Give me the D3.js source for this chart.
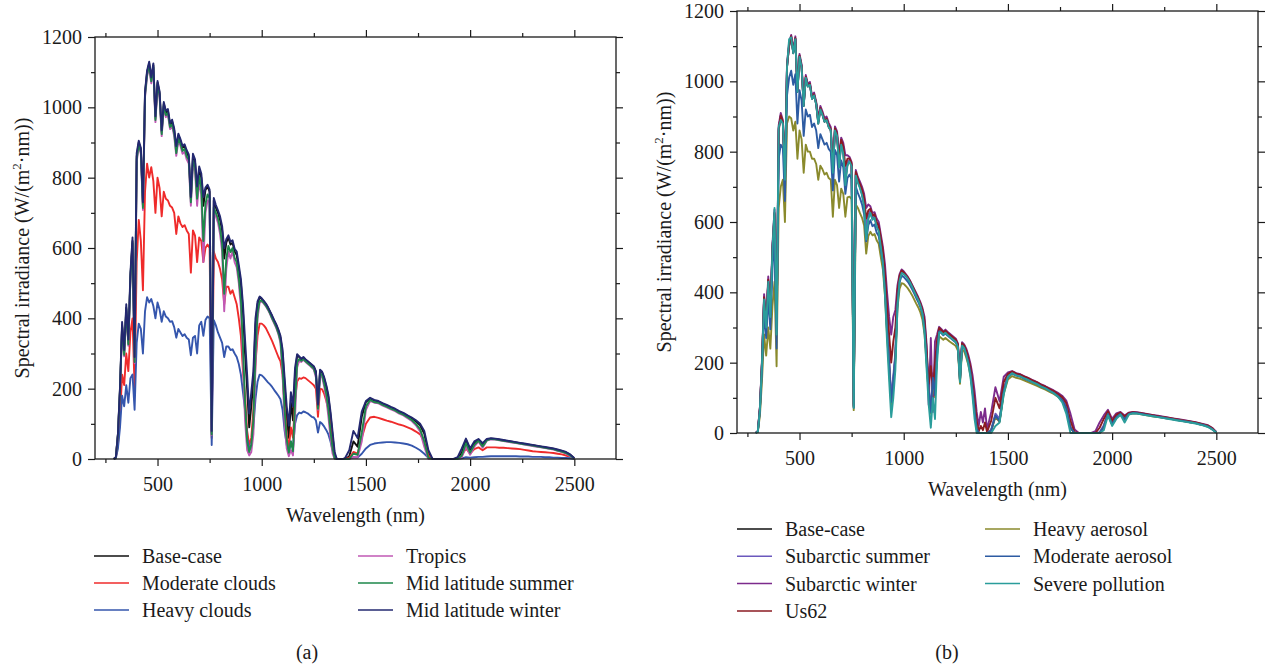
<!DOCTYPE html>
<html>
<head>
<meta charset="utf-8">
<script src="https://cdn.jsdelivr.net/npm/d3@7"></script>
<style>
  body { margin: 0; background: #fff; }
  text { font-family: "Liberation Serif", "DejaVu Serif", serif; fill: #1a1a1a; }
</style>
</head>
<body>
<div id="chart"></div>
<script>
// wavelength grid (nm), rows of 10
const wl = [
  290,300,310,320,330,340,350,360,370,380,
  390,400,410,420,430,440,450,460,470,480,
  490,500,510,520,530,540,550,560,570,580,
  590,600,610,620,630,640,650,660,670,680,
  690,700,710,720,730,740,750,760,770,780,
  790,800,810,820,830,840,850,860,870,880,
  890,900,910,920,930,940,950,960,970,980,
  990,1000,1010,1020,1030,1040,1050,1060,1070,1080,
  1090,1100,1110,1120,1130,1140,1150,1160,1170,1180,
  1190,1200,1210,1220,1230,1240,1250,1260,1270,1280,
  1290,1300,1310,1320,1330,1340,1350,1360,1370,1380,
  1390,1400,1420,1440,1460,1480,1500,1520,1540,1560,
  1580,1600,1620,1640,1660,1680,1700,1720,1740,1760,
  1780,1800,1820,1840,1860,1880,1900,1920,1940,1960,
  1980,2000,2020,2040,2060,2080,2100,2120,2140,2160,
  2180,2200,2220,2240,2260,2280,2300,2320,2340,2360,
  2380,2400,2420,2440,2460,2480,2500
];

// spectral irradiance W/(m2.nm), same grid
const baseCase = [
  0,5,70,200,380,300,430,330,520,620,
  280,860,900,880,720,1040,1100,1125,1080,1120,
  970,1070,1040,930,1010,985,990,950,960,935,
  880,920,905,885,890,870,860,740,860,845,
  760,825,800,720,765,775,760,75,735,715,
  700,680,650,570,615,630,610,615,590,580,
  540,500,420,300,200,90,150,220,380,440,
  460,455,448,440,430,418,405,392,380,365,
  345,300,210,120,60,160,110,240,295,290,
  283,288,282,277,272,267,262,248,150,252,
  246,228,205,175,125,65,12,0,0,0,
  0,0,8,50,35,120,162,172,166,163,
  157,152,146,141,134,129,122,116,107,96,
  72,15,0,0,0,0,0,0,0,18,
  55,25,45,55,40,55,58,57,55,53,
  51,49,47,45,43,41,39,37,35,33,
  31,29,26,23,19,12,2
];
const moderateClouds = [
  0,3,40,120,240,210,300,250,360,400,
  200,560,680,620,480,760,840,800,830,790,
  700,800,770,690,760,740,735,720,715,700,
  640,690,670,660,665,650,640,530,650,635,
  560,630,620,560,600,610,600,60,590,570,
  560,540,510,440,490,490,470,480,460,440,
  400,350,250,180,80,40,60,140,270,350,
  385,385,380,372,360,348,335,320,305,290,
  278,240,150,70,30,90,60,170,220,230,
  228,232,230,225,220,215,210,200,120,200,
  198,185,165,140,100,50,8,0,0,0,
  0,0,3,20,15,60,100,118,120,117,
  113,109,106,102,98,95,90,85,78,70,
  50,10,0,0,0,0,0,0,0,10,
  30,15,28,33,25,33,33,33,32,32,
  31,30,29,28,26,24,22,21,20,19,
  18,17,15,13,10,6,1
];
const heavyClouds = [
  0,2,30,90,180,150,210,160,230,240,
  140,330,385,370,300,420,460,445,455,435,
  400,445,425,390,420,405,400,390,392,375,
  345,370,360,350,355,345,340,295,345,350,
  300,380,390,350,395,405,400,40,395,380,
  360,345,330,290,320,320,310,312,300,290,
  270,240,190,140,60,30,40,90,170,220,
  240,238,232,225,218,212,205,196,188,180,
  170,140,80,40,15,50,30,100,125,132,
  130,135,133,130,125,120,118,110,75,105,
  100,92,82,70,50,25,3,0,0,0,
  0,0,1,5,4,15,30,40,44,46,
  47,48,48,47,46,44,42,38,32,25,
  15,3,0,0,0,0,0,0,0,2,
  5,4,5,6,6,7,8,8,8,8,
  8,8,8,7,7,7,6,6,6,5,
  5,4,4,3,3,2,0
];
const tropics = [
  0,4,66,192,372,292,420,322,510,608,
  272,845,888,868,708,1028,1088,1112,1068,1108,
  958,1058,1028,918,998,972,978,938,946,918,
  862,905,890,868,874,852,840,720,838,818,
  720,790,752,560,700,735,730,68,700,690,
  672,640,590,420,540,590,570,590,560,545,
  500,430,280,110,25,10,20,70,260,400,
  445,448,442,434,424,412,398,385,372,355,
  330,240,100,30,8,25,10,120,260,280,
  276,282,276,271,266,260,254,232,140,240,
  232,205,170,120,60,15,0,0,0,0,
  0,0,0,5,5,50,140,165,160,158,
  152,147,141,136,129,124,116,108,96,78,
  35,0,0,0,0,0,0,0,0,5,
  35,12,35,50,32,52,56,55,53,51,
  49,47,45,43,41,39,37,35,33,31,
  29,27,23,20,15,8,1
];
const midLatSummer = [
  0,4,68,196,376,296,425,326,515,614,
  276,852,894,874,714,1034,1094,1118,1074,1114,
  964,1064,1034,924,1004,978,984,944,952,926,
  870,912,897,876,882,861,850,730,848,830,
  740,805,772,620,725,752,742,70,715,700,
  684,655,612,470,570,606,588,600,572,560,
  515,455,320,160,50,20,40,110,300,415,
  450,450,444,436,426,414,400,388,375,358,
  336,262,140,55,18,50,22,160,275,284,
  279,284,278,273,268,262,257,238,143,245,
  238,214,185,140,80,30,2,0,0,0,
  0,0,0,15,12,75,150,168,162,160,
  154,149,143,138,131,126,119,111,100,85,
  50,3,0,0,0,0,0,0,0,10,
  45,18,40,52,36,53,57,56,54,52,
  50,48,46,44,42,40,38,36,34,32,
  30,28,24,21,17,10,1
];
const midLatWinter = [
  0,5,72,205,390,310,440,340,530,630,
  290,870,905,885,730,1045,1105,1130,1085,1125,
  975,1075,1045,935,1015,990,995,955,965,940,
  890,925,910,890,895,878,866,745,868,852,
  775,832,812,745,772,780,766,80,742,722,
  707,690,662,600,625,636,618,622,598,590,
  552,512,440,340,240,130,190,250,400,448,
  462,457,450,442,432,420,408,395,383,368,
  350,312,230,150,95,190,150,260,298,292,
  285,290,284,279,274,269,264,250,155,254,
  248,232,210,182,135,78,20,0,0,0,
  0,3,25,80,60,135,165,174,168,165,
  159,154,148,143,136,131,124,118,110,100,
  80,25,0,0,0,0,0,0,5,30,
  58,30,50,57,45,57,59,58,56,54,
  52,50,48,46,44,42,40,38,36,34,
  32,30,27,24,20,13,2
];
const subarcticSummer = [
  0,5,71,202,385,305,435,335,525,625,
  285,865,902,882,725,1042,1102,1128,1082,1122,
  972,1072,1042,932,1012,987,992,952,962,937,
  883,922,907,887,892,873,862,742,863,848,
  765,828,805,728,768,777,762,76,738,718,
  702,684,655,582,619,632,613,618,593,583,
  545,505,428,312,212,100,162,228,386,442,
  460,455,448,440,430,418,405,392,380,365,
  346,304,218,128,70,170,120,245,296,290,
  283,288,282,277,272,267,262,248,150,252,
  246,229,207,178,128,70,15,0,0,0,
  0,0,10,55,40,125,163,173,167,164,
  158,153,147,142,135,130,123,117,108,98,
  75,18,0,0,0,0,0,0,2,22,
  56,27,47,56,42,56,58,57,55,53,
  51,49,47,45,43,41,39,37,35,33,
  31,29,26,23,19,12,2
];
const subarcticWinter = [
  0,6,75,210,395,315,445,345,535,635,
  295,875,910,890,735,1050,1110,1132,1090,1128,
  978,1078,1048,938,1018,992,998,958,968,942,
  895,930,915,895,900,882,870,750,872,858,
  790,840,825,790,790,785,770,82,748,728,
  715,700,680,640,650,645,625,628,610,600,
  565,530,480,400,330,280,330,350,420,452,
  465,460,452,444,434,422,410,398,386,372,
  355,330,250,80,270,60,260,280,302,296,
  289,294,288,283,278,273,268,255,165,258,
  252,240,222,198,165,120,60,20,60,30,
  70,10,60,130,90,160,172,176,170,167,
  161,156,150,145,138,133,127,121,114,106,
  92,55,10,0,0,0,0,5,30,50,
  66,40,56,60,50,58,60,59,57,55,
  53,51,49,47,45,43,41,39,37,35,
  33,31,28,25,22,15,3
];
const us62 = [
  0,5,72,204,386,306,436,336,526,626,
  287,866,903,884,727,1043,1103,1128,1083,1123,
  973,1073,1043,933,1013,988,993,953,963,938,
  886,924,909,889,894,875,864,745,866,851,
  775,834,815,760,780,781,766,78,742,722,
  708,692,668,610,633,638,618,622,600,590,
  555,518,455,360,280,200,260,300,405,446,
  462,457,450,442,432,420,408,395,383,368,
  350,318,235,140,190,120,200,265,299,293,
  286,291,285,280,275,270,265,252,158,255,
  249,235,214,188,145,95,35,5,20,8,
  30,3,35,100,70,145,168,175,169,166,
  160,155,149,144,137,132,125,119,111,102,
  85,35,2,0,0,0,0,0,15,40,
  62,34,52,58,47,57,59,58,56,54,
  52,50,48,46,44,42,40,38,36,34,
  32,30,27,24,21,14,2
];
const heavyAerosol = [
  0,3,50,150,280,220,300,240,360,430,
  190,640,700,720,600,880,900,895,860,885,
  780,860,835,740,820,800,800,780,780,765,
  720,760,750,735,740,725,720,615,720,705,
  640,695,680,615,670,672,665,65,650,640,
  625,612,590,510,560,572,562,566,548,538,
  500,465,390,280,185,80,135,205,355,410,
  426,424,418,411,402,392,380,368,357,343,
  322,280,195,112,55,150,102,222,275,270,
  265,270,265,260,256,252,247,234,140,238,
  232,215,194,165,118,60,10,0,0,0,
  0,0,7,45,32,112,152,162,157,154,
  149,144,139,134,128,123,117,111,103,92,
  69,14,0,0,0,0,0,0,0,17,
  53,24,43,53,38,53,56,55,53,51,
  49,47,45,44,42,40,38,36,34,32,
  30,28,25,22,18,11,2
];
const moderateAerosol = [
  0,4,62,180,345,270,385,295,465,555,
  240,780,820,810,660,960,1010,1030,990,1020,
  880,975,945,845,920,900,905,870,880,860,
  810,850,835,820,825,808,800,690,805,790,
  715,775,755,680,725,735,722,72,700,682,
  668,650,622,545,590,605,588,593,570,560,
  522,485,408,292,195,88,146,214,370,428,
  448,444,437,430,420,409,397,384,372,358,
  338,294,206,118,59,157,108,235,289,284,
  278,283,277,272,267,262,257,244,147,248,
  242,224,202,172,123,64,12,0,0,0,
  0,0,8,49,34,118,159,169,163,160,
  154,149,144,139,132,127,120,114,105,94,
  71,15,0,0,0,0,0,0,0,18,
  54,25,44,54,39,54,57,56,54,52,
  50,48,46,44,42,40,38,36,34,32,
  30,28,25,22,18,11,2
];
const severePollution = [
  0,4,68,198,380,300,430,330,520,640,
  280,870,890,880,720,1040,1120,1125,1080,1120,
  970,1070,1040,930,1010,985,990,950,960,935,
  880,920,905,885,890,870,860,740,860,845,
  755,820,795,705,760,772,758,72,732,712,
  696,676,644,550,608,626,606,612,586,574,
  530,485,395,260,150,45,100,180,360,432,
  455,452,446,438,428,416,403,390,378,362,
  340,285,180,80,15,100,40,200,285,286,
  280,285,279,274,269,264,259,244,145,248,
  242,222,196,160,105,40,0,0,0,0,
  0,0,0,20,30,110,160,170,164,161,
  155,150,144,139,132,127,120,113,103,88,
  55,0,0,0,0,0,0,0,0,8,
  50,20,40,52,30,52,56,55,53,51,
  49,47,45,43,41,39,37,35,33,31,
  29,27,24,21,17,10,1
];

const xMajor = [500, 1000, 1500, 2000, 2500];
const xMinor = [250, 750, 1250, 1750, 2250];
const yMajor = [0, 200, 400, 600, 800, 1000, 1200];
const yMinor = [100, 300, 500, 700, 900, 1100];

const seriesA = [
  { name: 'Base-case', values: baseCase, color: '#111111' },
  { name: 'Moderate clouds', values: moderateClouds, color: '#ef2b2b' },
  { name: 'Heavy clouds', values: heavyClouds, color: '#3556ad' },
  { name: 'Tropics', values: tropics, color: '#c058b4' },
  { name: 'Mid latitude summer', values: midLatSummer, color: '#1d874a' },
  { name: 'Mid latitude winter', values: midLatWinter, color: '#232870' }
];
const seriesB = [
  { name: 'Base-case', values: baseCase, color: '#111111' },
  { name: 'Subarctic summer', values: subarcticSummer, color: '#6b58bd' },
  { name: 'Subarctic winter', values: subarcticWinter, color: '#7c2b8c' },
  { name: 'Us62', values: us62, color: '#8b1b22' },
  { name: 'Heavy aerosol', values: heavyAerosol, color: '#8a8a2c' },
  { name: 'Moderate aerosol', values: moderateAerosol, color: '#2d5ba2' },
  { name: 'Severe pollution', values: severePollution, color: '#2a9d9b' }
];

[...seriesA, ...seriesB].forEach(s => {
  if (s.values.length !== wl.length) console.error(s.name, s.values.length, wl.length);
});

const svg = d3.select('#chart').append('svg')
  .attr('width', 1266)
  .attr('height', 670)
  .style('background', '#fff');

const drawPanel = (p) => {
  const x = d3.scaleLinear().domain([200, 2700]).range([p.left, p.right]);
  const y = d3.scaleLinear().domain([0, 1200]).range([p.bottom, p.top]);
  const g = svg.append('g');

  // lines
  const line = d3.line()
    .x((d, i) => x(wl[i]))
    .y(d => y(d));
  p.series.forEach(s => {
    g.append('path')
      .datum(s.values)
      .attr('fill', 'none')
      .attr('stroke', s.color)
      .attr('stroke-width', 1.9)
      .attr('stroke-linejoin', 'round')
      .attr('d', line);
  });

  // ticks on all four sides
  const addAxis = (axis, transform, labels) => {
    const a = g.append('g').attr('transform', transform).call(axis);
    a.select('.domain').remove();
    a.selectAll('line').attr('stroke', '#1a1a1a').attr('stroke-width', 1.2);
    a.selectAll('text').style('font-size', '20px').attr('fill', '#1a1a1a')
      .style('font-family', '"Liberation Serif", serif');
    if (!labels) a.selectAll('text').remove();
    return a;
  };
  addAxis(d3.axisBottom(x).tickValues(xMajor).tickSize(7).tickPadding(11).tickFormat(d3.format('d')), `translate(0,${p.bottom})`, true);
  addAxis(d3.axisBottom(x).tickValues(xMinor).tickSize(4).tickFormat(''), `translate(0,${p.bottom})`, false);
  addAxis(d3.axisTop(x).tickValues(xMajor).tickSize(7).tickFormat(''), `translate(0,${p.top})`, false);
  addAxis(d3.axisTop(x).tickValues(xMinor).tickSize(4).tickFormat(''), `translate(0,${p.top})`, false);
  addAxis(d3.axisLeft(y).tickValues(yMajor).tickSize(7).tickPadding(6).tickFormat(d3.format('d')), `translate(${p.left},0)`, true);
  addAxis(d3.axisLeft(y).tickValues(yMinor).tickSize(4).tickFormat(''), `translate(${p.left},0)`, false);
  addAxis(d3.axisRight(y).tickValues(yMajor).tickSize(7).tickFormat(''), `translate(${p.right},0)`, false);
  addAxis(d3.axisRight(y).tickValues(yMinor).tickSize(4).tickFormat(''), `translate(${p.right},0)`, false);

  // frame
  g.append('rect')
    .attr('x', p.left).attr('y', p.top)
    .attr('width', p.right - p.left).attr('height', p.bottom - p.top)
    .attr('fill', 'none').attr('stroke', '#1a1a1a').attr('stroke-width', 1.3);

  // axis titles
  g.append('text')
    .attr('x', (p.left + p.right) / 2)
    .attr('y', p.bottom + 63)
    .attr('text-anchor', 'middle')
    .style('font-size', '20px')
    .text('Wavelength (nm)');

  const yt = g.append('text')
    .attr('transform', `translate(${p.left - 66},${(p.top + p.bottom) / 2}) rotate(-90)`)
    .attr('text-anchor', 'middle')
    .style('font-size', '20px');
  yt.append('tspan').text('Spectral irradiance (W/(m');
  yt.append('tspan').attr('dy', -8).style('font-size', '13px').text('2');
  yt.append('tspan').attr('dy', 8).text('·nm))');

  // legend
  p.series.forEach((s, i) => {
    const col = i < p.perCol ? 0 : 1;
    const row = i < p.perCol ? i : i - p.perCol;
    const lx = p.legend.cols[col];
    const ly = p.legend.y + row * p.legend.dy;
    g.append('line')
      .attr('x1', lx).attr('x2', lx + 35)
      .attr('y1', ly).attr('y2', ly)
      .attr('stroke', s.color).attr('stroke-width', 1.5);
    g.append('text')
      .attr('x', lx + 48)
      .attr('y', ly + 7)
      .style('font-size', '20px')
      .text(s.name);
  });

  g.append('text')
    .attr('x', p.capX).attr('y', 659)
    .attr('text-anchor', 'middle')
    .style('font-size', '20px')
    .text(p.caption);
};

drawPanel({
  left: 95, right: 616, top: 37, bottom: 459,
  series: seriesA, perCol: 3,
  legend: { cols: [94, 358], y: 556, dy: 27 },
  caption: '(a)', capX: 307
});
drawPanel({
  left: 737, right: 1258, top: 11, bottom: 433,
  series: seriesB, perCol: 4,
  legend: { cols: [737, 985], y: 529, dy: 27.3 },
  caption: '(b)', capX: 947
});
</script>
</body>
</html>
